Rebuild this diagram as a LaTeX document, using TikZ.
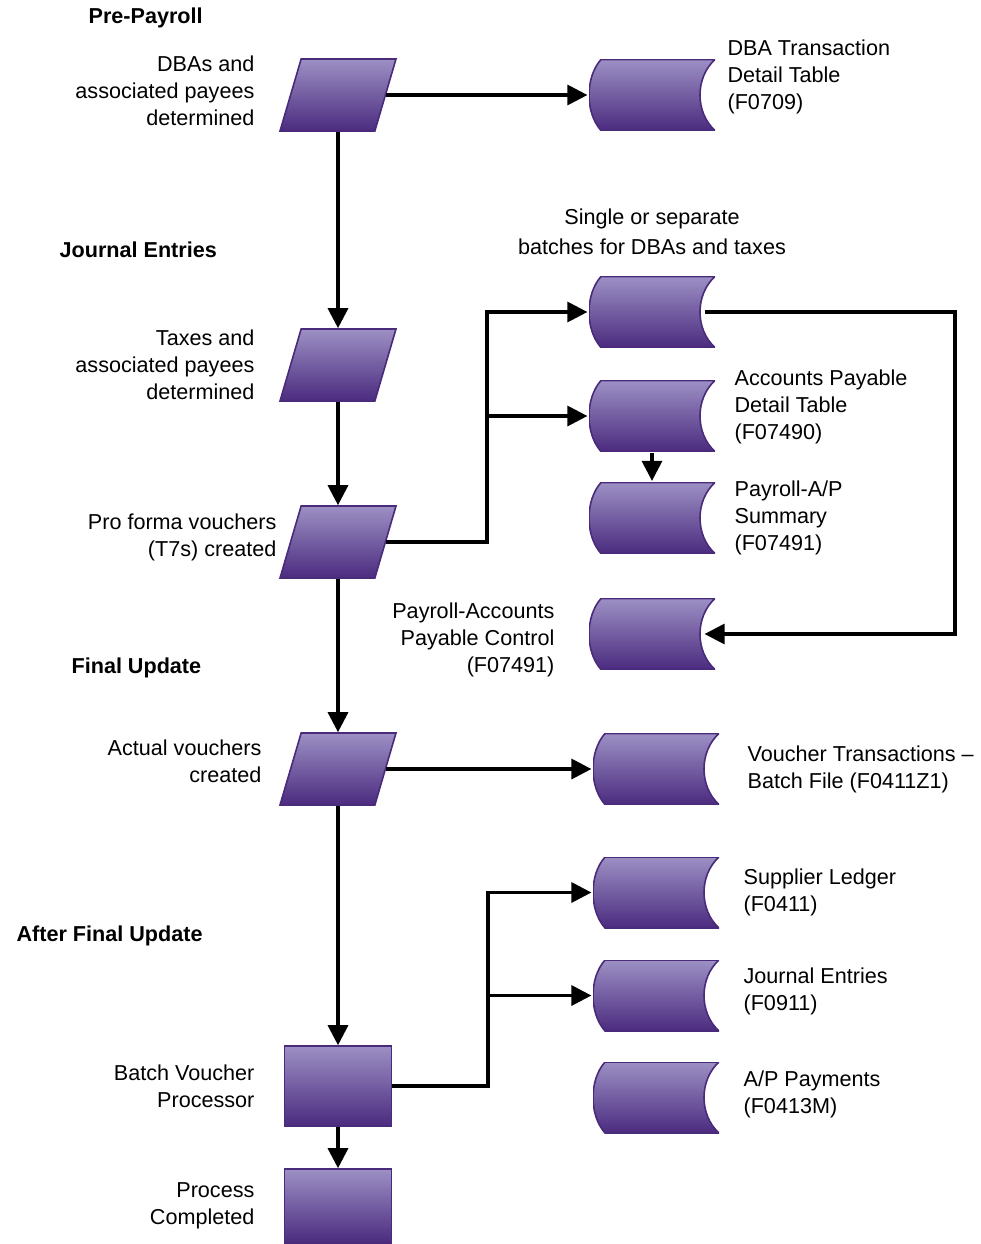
\documentclass[tikz,border=0pt]{standalone}
\usepackage{fontspec}
\setmainfont{Liberation Sans}
\usepackage{tikz}
\usetikzlibrary{shapes, arrows.meta, positioning}
\definecolor{plite}{HTML}{9C90C4}
\definecolor{pdark}{HTML}{4B2B7F}
\definecolor{pedge}{HTML}{4A2A7A}
\tikzstyle{io} = [trapezium, trapezium left angle=74, trapezium right angle=106,
  trapezium stretches=true, minimum width=58pt, minimum height=36pt,
  draw=pedge, line width=0.8pt, top color=plite, bottom color=pdark]
\tikzstyle{proc} = [rectangle, minimum width=53.5pt, minimum height=40pt,
  draw=pedge, line width=0.8pt, top color=plite, bottom color=pdark]
\tikzstyle{store} = [rectangle, minimum width=63pt, minimum height=35.5pt, inner sep=0pt,
  path picture={\shade[top color=plite, bottom color=pdark, draw=pedge, line width=0.8pt]
    ([xshift=6pt]path picture bounding box.north west)
    -- (path picture bounding box.north east)
    .. controls ([xshift=-10pt,yshift=-9pt]path picture bounding box.north east)
       and ([xshift=-10pt,yshift=9pt]path picture bounding box.south east) .. (path picture bounding box.south east)
    -- ([xshift=6pt]path picture bounding box.south west)
    .. controls ([xshift=-2pt,yshift=9pt]path picture bounding box.south west)
       and ([xshift=-2pt,yshift=-9pt]path picture bounding box.north west) .. cycle;}]
\tikzstyle{lbl} = [inner sep=0pt, font=\fontsize{10.8}{13.5}\selectfont]
\tikzstyle{head} = [inner sep=0pt, anchor=west, font=\fontsize{10.8}{13.5}\selectfont\bfseries]

\begin{document}
\begin{tikzpicture}[node distance=1.2cm, >={Triangle[length=10pt,width=10pt]}, line width=1.6pt]
    \useasboundingbox (0,0) rectangle (490.5pt,-622pt);
    \node[head] (h1) at (43.5pt,-9pt) {Pre-Payroll};
    \node[head] (h2) at (29pt,-125pt) {Journal Entries};
    \node[head] (h3) at (35pt,-334pt) {Final Update};
    \node[head] (h4) at (7.5pt,-468pt) {After Final Update};
    \node[io] (p1) at (169pt,-47.5pt) {};
    \node[io, below of=p1, node distance=135pt] (p2) {};
    \node[io, below of=p2, node distance=88.5pt] (p3) {};
    \node[io, below of=p3, node distance=113.5pt] (p4) {};
    \node[proc, below of=p4, node distance=158.5pt] (bvp) {};
    \node[proc, below of=bvp, node distance=60pt, minimum height=37pt] (done) {};
    \node[store, right of=p1, node distance=157pt] (s1) {};
    \node[store, below of=s1, node distance=108.5pt] (s2) {};
    \node[store, below of=s2, node distance=52pt] (s3) {};
    \node[store, below of=s3, node distance=51pt] (s4) {};
    \node[store, below of=s4, node distance=58pt] (s5) {};
    \node[store, right of=p4, node distance=159pt] (s6) {};
    \node[store, below of=s6, node distance=61.75pt] (s7) {};
    \node[store, below of=s7, node distance=51.5pt] (s8) {};
    \node[store, below of=s8, node distance=51pt] (s9) {};
    \node[lbl, left of=p1, node distance=41pt, anchor=east, align=right, yshift=2pt] (l1) {DBAs and\\associated payees\\determined};
    \node[lbl, left of=p2, node distance=41pt, anchor=east, align=right] (l2) {Taxes and\\associated payees\\determined};
    \node[lbl, left of=p3, node distance=30pt, anchor=east, align=right, yshift=2.5pt] (l3) {Pro forma vouchers\\(T7s) created};
    \node[lbl, left of=p4, node distance=37.5pt, anchor=east, align=right, yshift=4pt] (l4) {Actual vouchers\\created};
    \node[lbl, left of=bvp, node distance=41pt, anchor=east, align=right] (l5) {Batch Voucher\\Processor};
    \node[lbl, left of=done, node distance=41pt, anchor=east, align=right] (l6) {Process\\Completed};
    \node[lbl, right of=s1, node distance=37pt, anchor=west, align=left, yshift=9pt] (d1) {DBA Transaction\\Detail Table\\(F0709)};
    \node[lbl, above of=s2, node distance=40pt, align=center] (d2) {Single or separate\\[1.5pt]batches for DBAs and taxes};
    \node[lbl, right of=s3, node distance=40.5pt, anchor=west, align=left, yshift=4.5pt] (d3) {Accounts Payable\\Detail Table\\(F07490)};
    \node[lbl, right of=s4, node distance=40.5pt, anchor=west, align=left] (d4) {Payroll-A/P\\Summary\\(F07491)};
    \node[lbl, left of=s5, node distance=48pt, anchor=east, align=right, yshift=-2.75pt] (d5) {Payroll-Accounts\\Payable Control\\(F07491)};
    \node[lbl, right of=s6, node distance=45pt, anchor=west, align=left] (d6) {Voucher Transactions --\\Batch File (F0411Z1)};
    \node[lbl, right of=s7, node distance=43pt, anchor=west, align=left] (d7) {Supplier Ledger\\(F0411)};
    \node[lbl, right of=s8, node distance=43pt, anchor=west, align=left, yshift=2pt] (d8) {Journal Entries\\(F0911)};
    \node[lbl, right of=s9, node distance=43pt, anchor=west, align=left, yshift=1.5pt] (d9) {A/P Payments\\(F0413M)};
    \coordinate[right of=p3, node distance=74.5pt] (j1);
    \coordinate[right of=s2, node distance=151.5pt] (j2);
    \coordinate[right of=bvp, node distance=75pt] (j3);
    \draw[->] (p1) -- (s1);
    \draw[->] (p1) -- (p2);
    \draw[->] (p2) -- (p3);
    \draw[->] (p3) -- (p4);
    \draw[->] (p4) -- (bvp);
    \draw[->] (bvp) -- (done);
    \draw[->] (p3) -- (j1) |- (s2);
    \draw[->] (j1 |- s3) -- (s3);
    \draw[->] (s3) -- (s4);
    \draw[->] ([xshift=-6pt]s2.east) -- (j2) |- ([xshift=-6pt]s5.east);
    \draw[->] (p4) -- (s6);
    \draw[->] (bvp) -- (j3) |- (s7);
    \draw[->] (j3 |- s8) -- (s8);
\end{tikzpicture}
\end{document}
